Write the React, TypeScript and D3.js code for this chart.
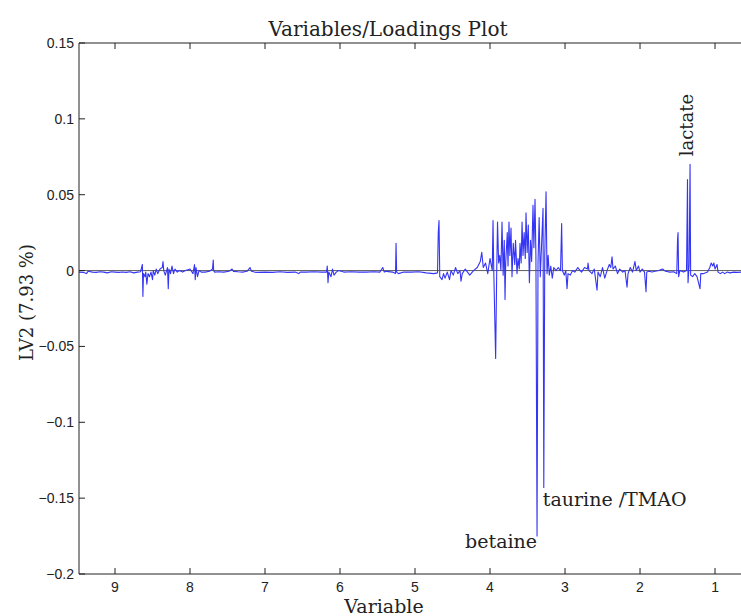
import React from "react";
import * as d3 from "d3";

const shifts: number[] = [
  9.48, 9.42, 9.38, 9.36, 9.30, 9.25, 9.20, 9.15, 9.10, 9.05, 9.00, 8.95, 8.90, 8.85, 8.80, 8.75, 8.70, 8.66,
  8.635, 8.628, 8.62, 8.60, 8.59, 8.575, 8.56, 8.54, 8.52, 8.50, 8.49, 8.47, 8.45, 8.43, 8.40, 8.37, 8.36, 8.35,
  8.33, 8.30, 8.29, 8.28, 8.26, 8.24, 8.22, 8.20, 8.17, 8.14, 8.10, 8.06, 8.00, 7.96, 7.94, 7.93, 7.92, 7.90,
  7.88, 7.85, 7.80, 7.74, 7.70, 7.69, 7.685, 7.67, 7.62, 7.55, 7.48, 7.44, 7.42, 7.36, 7.30, 7.24, 7.20, 7.18,
  7.14, 7.10, 7.0, 6.9, 6.8, 6.7, 6.6, 6.55, 6.53, 6.45, 6.35, 6.25, 6.18, 6.17, 6.16, 6.15, 6.12, 6.10, 6.08,
  6.05, 6.02, 5.95, 5.85, 5.75, 5.65, 5.55, 5.47, 5.43, 5.41, 5.38, 5.30, 5.26, 5.253, 5.245, 5.22, 5.15, 5.05,
  4.95, 4.85, 4.75, 4.70, 4.69, 4.68, 4.67, 4.64, 4.62, 4.60, 4.57, 4.54, 4.52, 4.49, 4.46, 4.43, 4.40, 4.387,
  4.37, 4.33, 4.30, 4.27, 4.22, 4.17, 4.13, 4.11, 4.09, 4.06, 4.03, 4.00, 3.97, 3.96, 3.95, 3.925, 3.91, 3.90,
  3.885, 3.87, 3.855, 3.84, 3.825, 3.81, 3.80, 3.79, 3.77, 3.76, 3.747, 3.735, 3.72, 3.707, 3.69, 3.67, 3.66,
  3.64, 3.627, 3.61, 3.60, 3.585, 3.573, 3.56, 3.545, 3.53, 3.52, 3.505, 3.49, 3.475, 3.46, 3.445, 3.427, 3.415,
  3.40, 3.388, 3.373, 3.36, 3.345, 3.33, 3.31, 3.293, 3.283, 3.27, 3.253, 3.24, 3.225, 3.21, 3.19, 3.17, 3.15,
  3.12, 3.09, 3.06, 3.045, 3.035, 3.01, 2.99, 2.973, 2.96, 2.93, 2.90, 2.87, 2.83, 2.78, 2.74, 2.70, 2.693, 2.68,
  2.64, 2.61, 2.573, 2.56, 2.53, 2.50, 2.47, 2.44, 2.41, 2.39, 2.373, 2.36, 2.33, 2.30, 2.27, 2.23, 2.20, 2.173,
  2.16, 2.13, 2.10, 2.067, 2.05, 2.02, 2.00, 1.97, 1.94, 1.92, 1.91, 1.88, 1.84, 1.80, 1.75, 1.70, 1.66, 1.60,
  1.55, 1.51, 1.50, 1.493, 1.485, 1.47, 1.42, 1.38, 1.367, 1.36, 1.345, 1.333, 1.325, 1.30, 1.27, 1.24, 1.20,
  1.19, 1.15, 1.10, 1.07, 1.05, 1.03, 1.015, 1.00, 0.973, 0.96, 0.93, 0.90, 0.87, 0.84, 0.80, 0.75, 0.70, 0.65,
  0.60, 0.55,
];

const loadings: number[] = [
  -0.001, -0.0012, -0.002, -0.0005, -0.001, -0.0012, -0.0008, -0.001, -0.0015, -0.0008, -0.001, -0.0012, -0.0009, -0.0012, -0.0008, -0.0015, -0.001, -0.0008,
  0.004, -0.017, -0.002, -0.004, -0.001, -0.009, -0.002, -0.004, -0.001, -0.006, 0.0, -0.003, 0.001, -0.002, 0.001, 0.002, 0.006, 0.0,
  -0.003, 0.002, -0.012, 0.001, -0.002, 0.003, -0.002, 0.001, -0.001, 0.0, -0.001, 0.0, 0.001, -0.002, 0.004, -0.006, 0.002, -0.004,
  0.0, -0.001, -0.001, -0.0005, 0.001, 0.007, 0.0, -0.001, -0.0008, -0.001, -0.0005, 0.001, -0.0005, -0.0008, -0.001, -0.0005, 0.002, -0.0005,
  -0.001, -0.0012, -0.001, -0.0012, -0.0008, -0.0012, -0.001, -0.002, -0.001, -0.001, -0.0008, -0.001, -0.001, 0.003, -0.008, -0.001, -0.004, 0.001, -0.003,
  -0.001, 0.0, -0.001, -0.0008, -0.001, -0.001, -0.0008, -0.001, 0.002, -0.001, -0.0005, -0.001, -0.002, 0.018, -0.001, -0.002, -0.001, -0.001,
  -0.0008, -0.0015, -0.002, -0.0015, 0.025, 0.033, -0.004, -0.006, -0.002, -0.005, -0.001, -0.006, 0.0, -0.003, 0.002, -0.002, 0.0, -0.007,
  -0.002, 0.001, -0.001, -0.003, 0.0, 0.002, 0.006, 0.012, 0.002, 0.005, -0.002, 0.008, 0.0, 0.033, 0.0, -0.058, 0.002, 0.032,
  0.005, 0.01, 0.0, 0.032, -0.003, 0.02, -0.019, 0.006, 0.025, 0.003, 0.032, 0.01, 0.028, -0.004, 0.018, 0.004, 0.02,
  -0.002, 0.008, 0.001, 0.018, 0.005, 0.032, 0.01, 0.025, 0.008, 0.038, 0.012, 0.03, -0.008, 0.02, 0.006, 0.043, 0.015,
  0.047, 0.01, -0.175, 0.005, 0.035, -0.004, 0.02, 0.041, -0.143, 0.01, 0.052, -0.002, 0.01, -0.003, 0.003, -0.005, 0.002,
  0.0, 0.002, 0.0, 0.031, 0.0, -0.003, 0.0, -0.012, -0.002, -0.003, 0.0, -0.001, 0.002, -0.001, 0.002, 0.001, 0.005, 0.0,
  -0.002, 0.001, -0.013, -0.001, -0.004, 0.002, -0.005, 0.0, 0.004, 0.002, 0.009, 0.001, 0.003, -0.002, 0.001, -0.001, 0.0, -0.011,
  -0.002, 0.002, -0.001, 0.006, 0.0, 0.003, -0.001, 0.001, -0.001, -0.014, -0.001, -0.0005, -0.001, -0.0005, 0.0, 0.001, -0.0005, -0.001,
  -0.0008, -0.002, 0.02, 0.025, -0.004, 0.0, -0.001, 0.0, 0.06, -0.008, 0.004, 0.07, -0.003, -0.004, -0.002, -0.004, -0.012,
  -0.002, -0.002, -0.001, 0.002, 0.005, 0.003, 0.005, 0.001, 0.004, -0.001, -0.002, -0.001, -0.002, -0.001, -0.0015, -0.001, -0.0012, -0.001,
  -0.0008, -0.001,
];

const xTicks: number[] = [9, 8, 7, 6, 5, 4, 3, 2, 1];
const yTicks: number[] = [0.15, 0.1, 0.05, 0, -0.05, -0.1, -0.15, -0.2];
const yTickLabels: string[] = ["0.15", "0.1", "0.05", "0", "\u22120.05", "\u22120.1", "\u22120.15", "\u22120.2"];

const annotations = [
  { text: "lactate", ppm: 1.333, value: 0.072, kind: "vertical" },
  { text: "taurine /TMAO", ppm: 3.283, value: -0.155, kind: "right" },
  { text: "betaine", ppm: 3.373, value: -0.183, kind: "left" },
];

const W = 741;
const H = 616;
const left = 79;
const right = 752;
const top = 43;
const bottom = 574;

export default function App() {
  const x = d3.scaleLinear().domain([9.48, 0.507]).range([left, right]);
  const y = d3.scaleLinear().domain([-0.2, 0.15]).range([bottom, top]);
  const pts: [number, number][] = shifts.map((s, i) => [s, loadings[i]]);
  const line = d3
    .line<[number, number]>()
    .x((d) => x(d[0]))
    .y((d) => y(d[1]));
  const serif = "'DejaVu Serif', serif";
  const sans = "'Liberation Sans', Arial, sans-serif";
  const axisColor = "#222";
  return (
    <svg
      width={W}
      height={H}
      style={{ position: "absolute", left: 0, top: 0, background: "#fff" }}
    >
      <defs>
        <clipPath id="plotclip">
          <rect x={left} y={top} width={right - left} height={bottom - top} />
        </clipPath>
      </defs>
      <rect x={0} y={0} width={W} height={H} fill="#fff" />
      <g clipPath="url(#plotclip)">
        <line x1={left} x2={right} y1={y(0)} y2={y(0)} stroke="#333" strokeWidth={0.8} />
        <path d={line(pts) || ""} fill="none" stroke="#3535f5" strokeWidth={1.1} strokeLinejoin="round" />
      </g>
      <line x1={left} x2={right} y1={top} y2={top} stroke={axisColor} strokeWidth={1} />
      <line x1={left} x2={right} y1={bottom} y2={bottom} stroke={axisColor} strokeWidth={1} />
      <line x1={left} x2={left} y1={top} y2={bottom} stroke={axisColor} strokeWidth={1} />
      {xTicks.map((t) => (
        <g key={"xt" + t}>
          <line x1={x(t)} x2={x(t)} y1={bottom} y2={bottom - 6} stroke={axisColor} />
          <line x1={x(t)} x2={x(t)} y1={top} y2={top + 6} stroke={axisColor} />
          <text x={x(t)} y={bottom + 18} textAnchor="middle" fontFamily={sans} fontSize={14} fill="#222">
            {String(t)}
          </text>
        </g>
      ))}
      {yTicks.map((t, i) => (
        <g key={"yt" + i}>
          <line x1={left} x2={left + 6} y1={y(t)} y2={y(t)} stroke={axisColor} />
          <text x={left - 5} y={y(t) + 5} textAnchor="end" fontFamily={sans} fontSize={14} fill="#222">
            {yTickLabels[i]}
          </text>
        </g>
      ))}
      <text x={388} y={36} textAnchor="middle" fontFamily={serif} fontSize={20} fill="#222">
        Variables/Loadings Plot
      </text>
      <text x={384} y={613} textAnchor="middle" fontFamily={serif} fontSize={19} fill="#222">
        Variable
      </text>
      <text
        transform={`translate(33, ${(top + bottom) / 2 - 6}) rotate(-90)`}
        textAnchor="middle"
        fontFamily={serif}
        fontSize={18}
        fill="#222"
      >
        LV2 (7.93 %)
      </text>
      {annotations.map((a) => {
        const ax = x(a.ppm);
        const ay = y(a.value);
        if (a.kind === "vertical") {
          return (
            <text
              key={a.text}
              transform={`translate(${ax + 3}, ${ay - 5}) rotate(-90)`}
              textAnchor="start"
              fontFamily={serif}
              fontSize={18}
              fill="#222"
            >
              {a.text}
            </text>
          );
        }
        return (
          <text
            key={a.text}
            x={a.kind === "right" ? ax - 1 : ax}
            y={ay}
            textAnchor={a.kind === "right" ? "start" : "end"}
            fontFamily={serif}
            fontSize={19}
            fill="#222"
          >
            {a.text}
          </text>
        );
      })}
    </svg>
  );
}
